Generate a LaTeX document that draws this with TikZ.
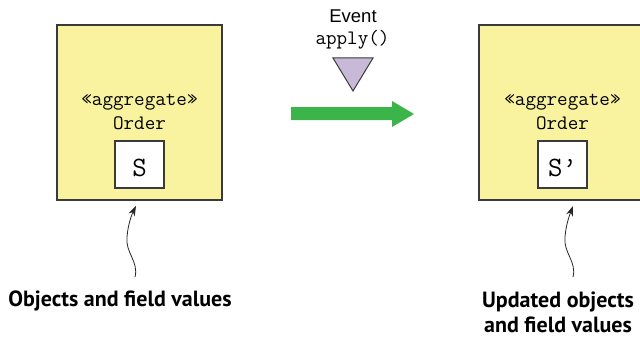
\documentclass[tikz,border=0pt]{standalone}
\usepackage{fontspec}
\setmainfont{Liberation Sans}
\newfontfamily\labf{PT Sans}
\usetikzlibrary{arrows.meta}
\definecolor{aggyellow}{HTML}{F9F3A0}
\definecolor{evpurple}{HTML}{C9B9D9}
\definecolor{flowgreen}{HTML}{3BB54A}
\definecolor{edgegray}{HTML}{3A3A3A}
\begin{document}
\begin{tikzpicture}[x=1pt,y=-1pt,
  aggbox/.style={draw=edgegray,line width=1.3pt,fill=aggyellow},
  statebox/.style={draw=edgegray,line width=1.1pt,fill=white},
  monotxt/.style={font=\ttfamily\fontsize{20.5}{22}\selectfont,inner sep=0pt,anchor=base},
  statetxt/.style={font=\ttfamily\fontsize{28}{30}\selectfont,inner sep=0pt},
  labtxt/.style={font=\labf\bfseries\fontsize{22}{25}\selectfont,inner sep=0pt,align=center},
  curly/.style={draw=black!85,line width=0.8pt,-{Stealth[length=10pt,width=7pt]}}]
\useasboundingbox (0,0) rectangle (640,337);
\clip (0,0) rectangle (640,337);
% left aggregate
\draw[aggbox] (57,25) rectangle (222,200);
\coordinate (box1s) at (136,206);
\node[monotxt] (agg1) at (139.5,105) {«aggregate»};
\node[monotxt] (ord1) at (139.5,129) {Order};
\draw[statebox] (115,141) rectangle (164,188);
\node[statetxt,anchor=base] (s1) at (139.5,176) {S};
% right aggregate
\draw[aggbox] (479,25) rectangle (646,200);
\coordinate (box2s) at (573,206);
\node[monotxt] (agg2) at (562.5,105) {«aggregate»};
\node[monotxt] (ord2) at (562.5,129) {Order};
\draw[statebox] (538,141) rectangle (587,188);
\node[statetxt,anchor=base] (s2) at (562.5,176) {S’};
% event
\node[font=\fontsize{18.5}{20}\selectfont,inner sep=0pt,anchor=base] (ev) at (353,23) {Event};
\node[monotxt] (ap) at (352.5,45) {apply()};
\draw[draw=edgegray,line width=1pt,fill=evpurple,line join=miter] (333,58) -- (373,58) -- (353,91) -- cycle;
% green arrow
\fill[flowgreen] (291,107) -- (392,107) -- (392,101) -- (414,114) -- (392,127) -- (392,120) -- (291,120) -- cycle;
% labels
\node[labtxt,anchor=base] (lab1) at (120,306) {Objects and field values};
\node[labtxt,anchor=base] (lab2a) at (558,307) {Updated objects};
\node[labtxt,anchor=base] (lab2b) at (558,332) {and field values};
\coordinate (t1) at (135,277);
\coordinate (t2) at (573,277);
\draw[curly] (t1) .. controls (139,262) and (125,252) .. (127,237) .. controls (128,224) and (132,214) .. (box1s);
\draw[curly] (t2) .. controls (577,262) and (563,252) .. (565,237) .. controls (566,224) and (570,214) .. (box2s);
\end{tikzpicture}
\end{document}
